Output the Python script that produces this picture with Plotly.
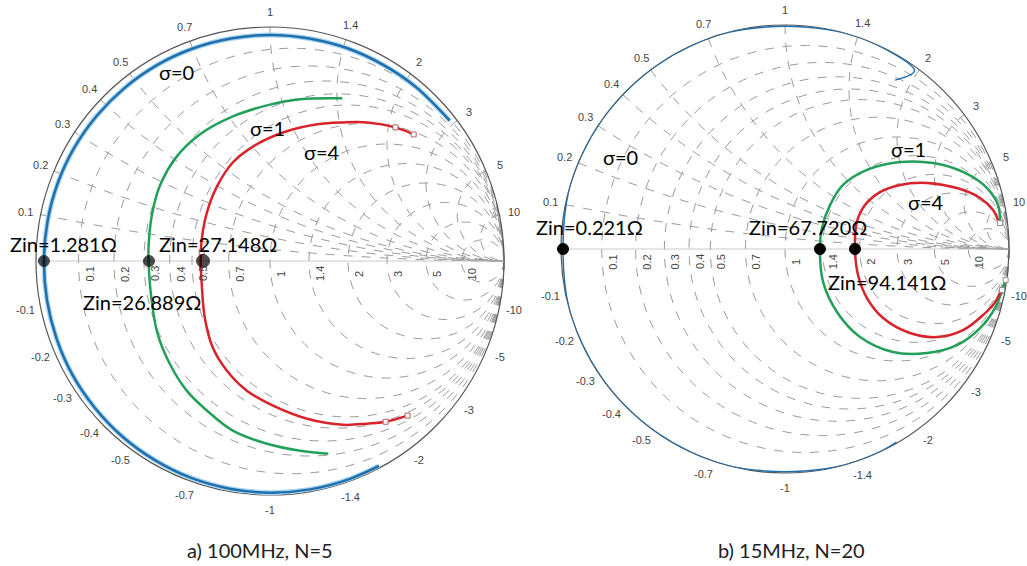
import math
import plotly.graph_objects as go

# ---------------- data (reflection coefficient readings, Re / Im) ----------------
# (a) 100 MHz, N=5
a_s0_re = [0.768, 0.624, 0.484, 0.331, 0.168, 0.0, -0.168, -0.330, -0.483, -0.621, -0.740, -0.837,
           -0.908, -0.951, -0.966, -0.953, -0.912, -0.844, -0.748, -0.630, -0.492, -0.337, -0.172,
           0.0, 0.172, 0.339, 0.466]
a_s0_im = [0.600, 0.743, 0.838, 0.909, 0.951, 0.966, 0.951, 0.908, 0.837, 0.740, 0.621, 0.483,
           0.330, 0.168, 0.0, -0.168, -0.332, -0.487, -0.628, -0.751, -0.851, -0.927, -0.973,
           -0.990, -0.976, -0.932, -0.876]
a_s1_re = [0.309, 0.129, -0.013, -0.159, -0.300, -0.399, -0.472, -0.506, -0.519, -0.519, -0.506,
           -0.481, -0.429, -0.356, -0.270, -0.159, -0.013, 0.129, 0.249]
a_s1_im = [0.695, 0.691, 0.665, 0.618, 0.541, 0.446, 0.318, 0.189, 0.060, 0.0, -0.167, -0.309,
           -0.438, -0.554, -0.639, -0.725, -0.781, -0.811, -0.824]
a_s4_re = [0.614, 0.536, 0.416, 0.313, 0.202, 0.056, -0.073, -0.159, -0.227, -0.270, -0.292,
           -0.296, -0.292, -0.279, -0.245, -0.185, -0.099, 0.013, 0.159, 0.313, 0.416, 0.494, 0.588]
a_s4_im = [0.541, 0.571, 0.592, 0.592, 0.584, 0.549, 0.489, 0.421, 0.318, 0.206, 0.090, 0.0,
           -0.094, -0.240, -0.369, -0.468, -0.554, -0.618, -0.674, -0.700, -0.695, -0.687, -0.661]
a_mark_re = [0.536, 0.614, -0.292, 0.494, 0.588]
a_mark_im = [0.571, 0.541, 0.038, -0.687, -0.661]
a_pts_re = [-0.966, -0.517, -0.286]
a_pts_im = [0.0, 0.0, 0.0]

# (b) 15 MHz, N=20
b_s0_re = [0.491, 0.578, 0.423, 0.259, 0.087, -0.087, -0.259, -0.423, -0.574, -0.707, -0.819,
           -0.906, -0.966, -0.991, -0.966, -0.906, -0.819, -0.707, -0.574, -0.423, -0.259, -0.087,
           0.087, 0.259, 0.423, 0.498]
b_s0_im = [0.754, 0.796, 0.906, 0.966, 0.991, 0.991, 0.966, 0.906, 0.819, 0.707, 0.574, 0.423,
           0.259, 0.0, -0.259, -0.423, -0.574, -0.707, -0.819, -0.906, -0.966, -0.991, -0.991,
           -0.966, -0.906, -0.862]
b_s1_re = [0.960, 0.951, 0.902, 0.795, 0.661, 0.513, 0.366, 0.259, 0.201, 0.165, 0.156, 0.170,
           0.232, 0.335, 0.482, 0.634, 0.768, 0.871, 0.938, 0.973, 0.982]
b_s1_im = [0.116, 0.196, 0.272, 0.344, 0.384, 0.388, 0.353, 0.286, 0.196, 0.094, 0.0, -0.147,
           -0.281, -0.393, -0.460, -0.464, -0.429, -0.353, -0.263, -0.174, -0.138]
b_s4_re = [0.951, 0.929, 0.871, 0.768, 0.634, 0.513, 0.424, 0.357, 0.321, 0.3125, 0.326, 0.366,
           0.438, 0.558, 0.679, 0.795, 0.884, 0.938, 0.969]
b_s4_im = [0.129, 0.174, 0.228, 0.272, 0.295, 0.286, 0.254, 0.196, 0.121, 0.0, -0.116, -0.219,
           -0.308, -0.375, -0.393, -0.362, -0.295, -0.237, -0.174]
b_mark_re = [0.960, 0.985, 0.969]
b_mark_im = [0.116, -0.138, -0.183]
b_pts_re = [-0.991, 0.156, 0.3125]
b_pts_im = [0.0, 0.0, 0.0]

grid_vals = [0.1, 0.2, 0.3, 0.4, 0.5, 0.7, 1, 1.4, 2, 3, 5, 10]
grid_labels = ["0.1", "0.2", "0.3", "0.4", "0.5", "0.7", "1", "1.4", "2", "3", "5", "10"]

# ---------------- helpers ----------------
def to_z(re, im):
    zs = [(1 + complex(u, v)) / (1 - complex(u, v)) for u, v in zip(re, im)]
    return [z.real for z in zs], [z.imag for z in zs]

BLUE = "#1f6fae"
HALO = "#a9d6ee"
GREEN = "#22a05a"
RED = "#d8232a"
W, H = 1027, 566

fig = go.Figure()

def curve(re, im, color, width, sub):
    r, x = to_z(re, im)
    fig.add_trace(go.Scattersmith(real=r, imag=x, mode="lines", subplot=sub,
                                  line=dict(color=color, width=width, shape="spline", smoothing=1),
                                  showlegend=False, hoverinfo="skip"))

def markers(re, im, sub, size, symbol, color, fill, lw=1):
    r, x = to_z(re, im)
    fig.add_trace(go.Scattersmith(real=r, imag=x, mode="markers", subplot=sub,
                                  marker=dict(size=size, symbol=symbol, color=fill,
                                              line=dict(color=color, width=lw)),
                                  showlegend=False, hoverinfo="skip"))

curve(a_s0_re, a_s0_im, HALO, 5, "smith")
curve(a_s0_re, a_s0_im, BLUE, 2.5, "smith")
curve(a_s1_re, a_s1_im, GREEN, 2.5, "smith")
curve(a_s4_re, a_s4_im, RED, 2.5, "smith")
markers(a_mark_re, a_mark_im, "smith", 5, "square", "#b06060", "white")
markers(a_pts_re, a_pts_im, "smith", [11, 11, 13], "circle", "black", "black")

curve(b_s0_re, b_s0_im, BLUE, 1.5, "smith2")
curve(b_s1_re, b_s1_im, GREEN, 2.5, "smith2")
curve(b_s4_re, b_s4_im, RED, 2.5, "smith2")
markers(b_mark_re, b_mark_im, "smith2", 5, "square", "#909090", "white")
markers(b_pts_re, b_pts_im, "smith2", 11, "circle", "black", "black")

TICKFONT = dict(family="Liberation Sans", size=11, color="#444")

def smith_axes(x0, x1, ytop, ybot):
    return dict(
        domain=dict(x=[x0 / W, x1 / W], y=[1 - ybot / H, 1 - ytop / H]),
        bgcolor="white",
        realaxis=dict(tickvals=grid_vals, showticklabels=False, layer="below traces",
                      gridcolor="#9a9a9a", gridwidth=0.8, griddash="dash",
                      linecolor="#bdbdbd", linewidth=0.8, ticks=""),
        imaginaryaxis=dict(tickvals=grid_vals, showticklabels=False, layer="below traces",
                           gridcolor="#9a9a9a", gridwidth=0.8, griddash="dash",
                           linecolor="#555", linewidth=1.2, ticks=""),
    )

# chart frames in pixels: (left, right, top, bottom)
frames = {"a": (36, 504, 27, 495), "b": (561, 1009, 25, 473)}

fig.update_layout(
    width=W, height=H,
    margin=dict(l=0, r=0, t=0, b=0),
    paper_bgcolor="white",
    showlegend=False,
    smith=smith_axes(*frames["a"]),
    smith2=smith_axes(*frames["b"]),
)

def paper(px, py):
    return px / W, 1 - py / H

# axis tick labels (MATLAB smithplot style)
for key, (l, r, t, b) in frames.items():
    cx, cy, R = (l + r) / 2, (t + b) / 2, (r - l) / 2
    for v, lab in zip(grid_vals, grid_labels):
        gx = cx + R * (v - 1) / (v + 1)
        x, y = paper(gx + 11, cy + 13)
        fig.add_annotation(text=lab, x=x, y=y, xref="paper", yref="paper", showarrow=False,
                           textangle=-90, font=TICKFONT, xanchor="center", yanchor="middle")
    for v, lab in zip(grid_vals, grid_labels):
        for sgn in (1, -1):
            th = math.pi - 2 * math.atan(v)
            rr = R + 15
            px = cx + rr * math.cos(th)
            py = cy - sgn * rr * math.sin(th)
            x, y = paper(px, py)
            fig.add_annotation(text=(lab if sgn > 0 else "-" + lab), x=x, y=y,
                               xref="paper", yref="paper", showarrow=False,
                               font=TICKFONT, xanchor="center", yanchor="middle")

ann = [
    ("σ=0", 176, 72), ("σ=1", 267, 128), ("σ=4", 322, 152),
    ("Zin=1.281Ω", 63, 244), ("Zin=27.148Ω", 218, 244), ("Zin=26.889Ω", 142, 302),
    ("σ=0", 620, 157), ("σ=1", 908, 149), ("σ=4", 926, 202),
    ("Zin=0.221Ω", 589, 227), ("Zin=67.720Ω", 808, 227), ("Zin=94.141Ω", 887, 282),
]
for txt, px, py in ann:
    x, y = paper(px, py)
    fig.add_annotation(text=txt, x=x, y=y, xref="paper", yref="paper",
                       showarrow=False, xanchor="center", yanchor="middle",
                       font=dict(family="Lato", size=20, color="black"))

for txt, px in [("a) 100MHz, N=5", 260), ("b) 15MHz, N=20", 791)]:
    x, y = paper(px, 550)
    fig.add_annotation(text=txt, x=x, y=y, xref="paper", yref="paper",
                       showarrow=False, xanchor="center", yanchor="middle",
                       font=dict(family="Lato", size=20, color="#222"))

fig.write_html("out.html")
